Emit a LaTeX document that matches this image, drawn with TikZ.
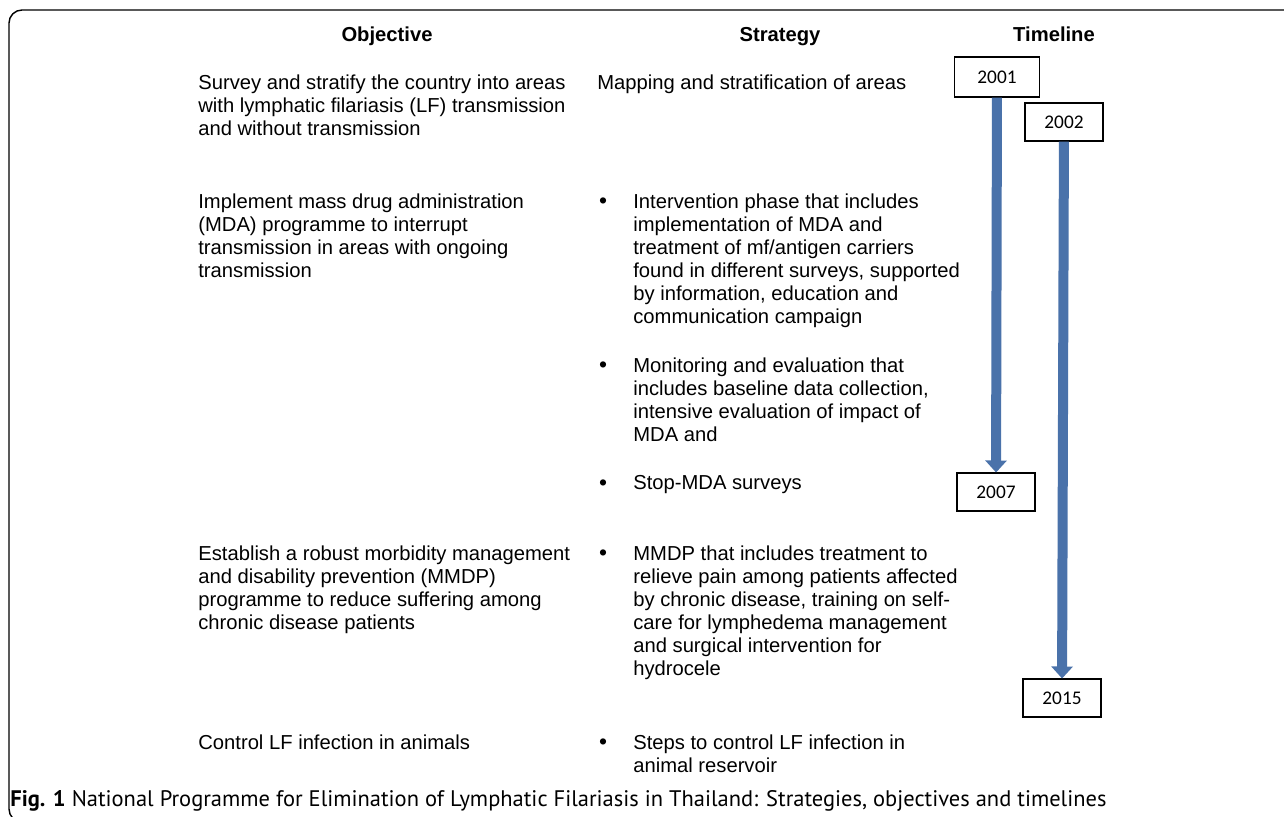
\documentclass[tikz,border=0pt]{standalone}
\usepackage{fontspec}
\setmainfont{Liberation Sans}
\newfontfamily\yearfont{Carlito}
\newfontfamily\capfont{PT Sans}
\usepackage{xcolor}
\usepackage{tikz}
\usetikzlibrary{positioning}
\usetikzlibrary{arrows.meta}
\definecolor{arrowblue}{RGB}{74,114,170}
\tikzstyle{txt} = [anchor=north west, inner sep=0pt, align=left, font=\fontsize{11.5}{13.1}\selectfont]
\tikzstyle{head} = [anchor=base, inner sep=0pt, font=\fontsize{11.5}{13.1}\selectfont\bfseries]
\tikzstyle{bul} = [anchor=base, inner sep=0pt, font=\fontsize{13}{13.1}\selectfont]
\tikzstyle{yearbox} = [draw=black, line width=0.6pt, minimum width=1.56cm, minimum height=0.76cm, inner sep=0pt, fill=white, font=\yearfont\fontsize{11}{13}\selectfont]
\tikzstyle{tlarrow} = [line width=0.2cm, draw=arrowblue, -{Triangle[width=0.42cm, length=0.24cm]}]

\begin{document}
\begin{tikzpicture}[x=0.02cm, y=-0.02cm]
    \useasboundingbox (0,0) rectangle (1284,816);
    \clip (0,0) rectangle (1284,816);
    \draw[line width=0.8pt, rounded corners=0.26cm] (9,10) rectangle (1330,822);

    % column heads
    \node[head] (hobj) at (387,41) {Objective};
    \node[head] (hstrat) at (780,41) {Strategy};
    \node[head] (htime) at (1054,41) {Timeline};

    % objectives
    \node[txt] (obj1) at (198,74) {Survey and stratify the country into areas\\with lymphatic filariasis (LF) transmission\\and without transmission};
    \node[txt] (obj2) at (198,193) {Implement mass drug administration\\(MDA) programme to interrupt\\transmission in areas with ongoing\\transmission};
    \node[txt] (obj3) at (198,545) {Establish a robust morbidity management\\and disability prevention (MMDP)\\programme to reduce suffering among\\chronic disease patients};
    \node[txt] (obj4) at (198,734) {Control LF infection in animals};

    % strategies
    \node[txt] (strat1) at (597,74) {Mapping and stratification of areas};
    \node[bul] (dot1) at (603,208) {\textbullet};
    \node[txt] (strat2) at (633,193) {Intervention phase that includes\\implementation of MDA and\\treatment of mf/antigen carriers\\found in different surveys, supported\\by information, education and\\communication campaign};
    \node[bul] (dot2) at (603,372) {\textbullet};
    \node[txt] (strat3) at (633,357) {Monitoring and evaluation that\\includes baseline data collection,\\intensive evaluation of impact of\\MDA and};
    \node[bul] (dot3) at (603,490) {\textbullet};
    \node[txt] (strat4) at (633,475) {Stop-MDA surveys};
    \node[bul] (dot4) at (603,560) {\textbullet};
    \node[txt] (strat5) at (633,545) {MMDP that includes treatment to\\relieve pain among patients affected\\by chronic disease, training on self-\\care for lymphedema management\\and surgical intervention for\\hydrocele};
    \node[bul] (dot5) at (603,749) {\textbullet};
    \node[txt] (strat6) at (633,734) {Steps to control LF infection in\\animal reservoir};

    % timeline
    \node[yearbox, minimum width=1.7cm, minimum height=0.8cm] (y2001) at (997,77) {2001};
    \node[yearbox] (y2002) at (1064,122) {2002};
    \node[yearbox] (y2007) at (996,492) {2007};
    \node[yearbox] (y2015) at (1062,698) {2015};
    \draw[tlarrow] (y2001) -- (y2007);
    \draw[tlarrow] (y2002) -- (y2015);

    \node[anchor=base west, inner sep=0pt, font=\capfont\fontsize{12.8}{15}\selectfont] (cap) at (10,806) {\textbf{Fig. 1} National Programme for Elimination of Lymphatic Filariasis in Thailand: Strategies, objectives and timelines};
\end{tikzpicture}
\end{document}
